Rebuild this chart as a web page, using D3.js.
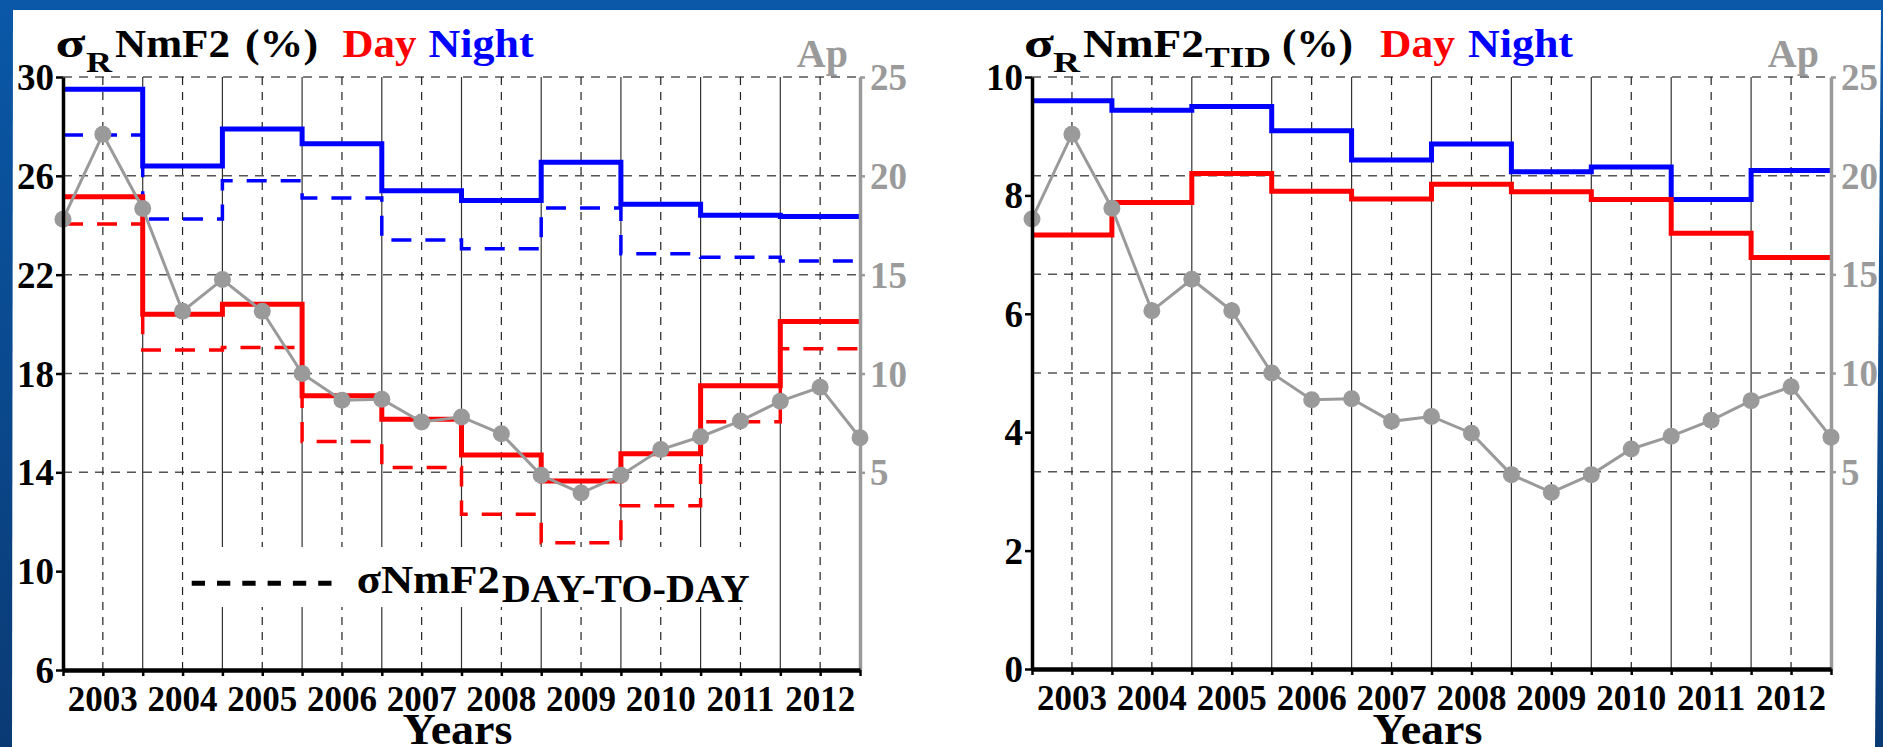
<!DOCTYPE html>
<html>
<head>
<meta charset="utf-8">
<script src="https://cdn.jsdelivr.net/npm/d3@7"></script>
<style>
  html, body { margin: 0; padding: 0; overflow: hidden; background: #0a4f9a; }
  svg { display: block; }
</style>
</head>
<body>
<svg id="chart" width="1883" height="747"></svg>
<script>
// ---- data ----
const years = [2003, 2004, 2005, 2006, 2007, 2008, 2009, 2010, 2011, 2012];
const yearLabels = ["2003", "2004", "2005", "2006", "2007", "2008", "2009", "2010", "2011", "2012"];
const yearEnd = 2013;

// sigma_R NmF2 (%) — total relative variability
const nightTotal = [29.5, 26.4, 27.9, 27.3, 25.4, 25.0, 26.55, 24.85, 24.4, 24.35];
const dayTotal   = [25.15, 20.4, 20.8, 17.1, 16.15, 14.7, 13.65, 14.75, 17.5, 20.1];
// sigma NmF2 day-to-day (%)
const nightDayToDay = [27.65, 24.25, 25.8, 25.1, 23.4, 23.05, 24.7, 22.85, 22.7, 22.55];
const dayDayToDay   = [24.05, 18.95, 19.05, 15.25, 14.2, 12.3, 11.15, 12.65, 16.05, 19.0];
// sigma_R NmF2_TID (%)
const nightTid = [9.6, 9.44, 9.5, 9.09, 8.6, 8.87, 8.4, 8.48, 7.93, 8.42];
const dayTid   = [7.33, 7.88, 8.37, 8.07, 7.94, 8.19, 8.06, 7.93, 7.36, 6.95];

// semi-annual Ap index
const apTimes = [2003, 2003.5, 2004, 2004.5, 2005, 2005.5, 2006, 2006.5, 2007, 2007.5,
                 2008, 2008.5, 2009, 2009.5, 2010, 2010.5, 2011, 2011.5, 2012, 2012.5, 2013];
const apValues = [17.8, 22.1, 18.35, 13.15, 14.75, 13.15, 10.0, 8.65, 8.7, 7.55,
                  7.8, 6.95, 4.85, 3.95, 4.85, 6.15, 6.8, 7.6, 8.6, 9.3, 6.75];

const halfYearTicks = apTimes;
const midYears = [2003.5, 2004.5, 2005.5, 2006.5, 2007.5, 2008.5, 2009.5, 2010.5, 2011.5, 2012.5];
const innerYearLines = [2004, 2005, 2006, 2007, 2008, 2009, 2010, 2011, 2012];

const leftTicks = [6, 10, 14, 18, 22, 26, 30];
const rightTicks = [0, 2, 4, 6, 8, 10];
const apTicks = [5, 10, 15, 20, 25];

// ---- drawing ----
const FONT = "'Liberation Serif','Times New Roman',serif";
const RED = "#ff0000", BLUE = "#0000ff", GRAY = "#9a9a9a";
const svg = d3.select("#chart");

// slide background
const defs = svg.append("defs");
const grad = defs.append("linearGradient").attr("id", "bg")
  .attr("x1", 0).attr("y1", 0).attr("x2", 0).attr("y2", 1);
grad.append("stop").attr("offset", 0).attr("stop-color", "#0a58a8");
grad.append("stop").attr("offset", 1).attr("stop-color", "#0a3a74");
svg.append("rect").attr("width", 1883).attr("height", 747).attr("fill", "url(#bg)");
svg.append("polygon").attr("points", "13,10 1881,10 1875,747 12,747").attr("fill", "#fff");

function label(g, str, x, y, size, color, len, anchor) {
  const t = g.append("text")
    .attr("x", x).attr("y", y)
    .attr("font-family", FONT).attr("font-weight", "bold")
    .attr("font-size", size).attr("fill", color)
    .attr("text-anchor", anchor || "start")
    .text(str);
  if (len) t.attr("textLength", len).attr("lengthAdjust", "spacingAndGlyphs");
  return t;
}

function panel(cfg) {
  const g = svg.append("g");
  const x = d3.scaleLinear().domain([years[0], yearEnd]).range([cfg.x0, cfg.x1]);
  const y = d3.scaleLinear().domain(cfg.yDomain).range([cfg.yBottom, cfg.yTop]);
  const ap = d3.scaleLinear().domain([-5, 25]).range([cfg.yBottom, cfg.yTop]);

  // grid
  g.append("g").selectAll("line").data(apTicks).join("line")
    .attr("x1", cfg.x0).attr("x2", cfg.x1)
    .attr("y1", d => ap(d)).attr("y2", d => ap(d))
    .attr("stroke", "#555").attr("stroke-width", 1.5).attr("stroke-dasharray", "9,7");
  g.append("g").selectAll("line").data(innerYearLines).join("line")
    .attr("x1", d => x(d)).attr("x2", d => x(d))
    .attr("y1", cfg.yTop).attr("y2", cfg.yBottom)
    .attr("stroke", "#333").attr("stroke-width", 1.2);
  g.append("g").selectAll("line").data(midYears).join("line")
    .attr("x1", d => x(d)).attr("x2", d => x(d))
    .attr("y1", cfg.yTop).attr("y2", cfg.yBottom)
    .attr("stroke", "#222").attr("stroke-width", 1.2).attr("stroke-dasharray", "8,7");

  if (cfg.legend) cfg.legend(g);

  // step series
  const step = d3.line().x(d => x(d[0])).y(d => y(d[1])).curve(d3.curveStepAfter);
  cfg.series.forEach(s => {
    const pts = years.map((yr, i) => [yr, s.values[i]]);
    pts.push([yearEnd, s.values[s.values.length - 1]]);
    g.append("path").datum(pts)
      .attr("d", step)
      .attr("fill", "none")
      .attr("stroke", s.color)
      .attr("stroke-width", s.dashed ? 3.5 : 5)
      .attr("stroke-dasharray", s.dashed ? "20,14" : null);
  });

  // Ap curve
  const apPts = apTimes.map((t, i) => [t, apValues[i]]);
  g.append("path").datum(apPts)
    .attr("d", d3.line().x(d => x(d[0])).y(d => ap(d[1])))
    .attr("fill", "none").attr("stroke", GRAY).attr("stroke-width", 3);
  g.append("g").selectAll("circle").data(apPts).join("circle")
    .attr("cx", d => x(d[0])).attr("cy", d => ap(d[1])).attr("r", 8.5)
    .attr("fill", GRAY);

  // left axis
  const la = g.append("g").attr("transform", `translate(${cfg.x0},0)`)
    .call(d3.axisLeft(y).tickValues(cfg.ticks).tickSize(7).tickSizeOuter(0).tickFormat(d3.format("d")));
  la.select(".domain").attr("stroke", "#000").attr("stroke-width", 3.5);
  la.selectAll(".tick line").attr("stroke", "#000").attr("stroke-width", 2.5);
  la.selectAll(".tick text").attr("font-family", FONT).attr("font-weight", "bold")
    .attr("font-size", 37).attr("fill", "#000").attr("x", -9).attr("dy", "0.34em");

  // right Ap axis
  const ra = g.append("g").attr("transform", `translate(${cfg.x1},0)`)
    .call(d3.axisRight(ap).tickValues(apTicks).tickSize(5).tickSizeOuter(0));
  ra.select(".domain").attr("stroke", GRAY).attr("stroke-width", 3.5);
  ra.selectAll(".tick line").attr("stroke", GRAY).attr("stroke-width", 2.5);
  ra.selectAll(".tick text").attr("font-family", FONT).attr("font-weight", "bold")
    .attr("font-size", 37).attr("fill", GRAY).attr("x", 10).attr("dy", "0.34em");
  label(g, "Ap", cfg.x1 - 12, 66.7, 40, GRAY, null, "end");

  // bottom axis
  const ba = g.append("g").attr("transform", `translate(0,${cfg.yBottom})`)
    .call(d3.axisBottom(x).tickValues(halfYearTicks).tickSize(6).tickSizeOuter(0).tickFormat(""));
  ba.select(".domain").attr("stroke", "#000").attr("stroke-width", 4.5);
  ba.selectAll(".tick line").attr("stroke", "#000").attr("stroke-width", 2.5);
  g.append("g").selectAll("text").data(midYears).join("text")
    .attr("x", d => x(d)).attr("y", cfg.yBottom + 41)
    .attr("text-anchor", "middle")
    .attr("font-family", FONT).attr("font-weight", "bold").attr("font-size", 35)
    .attr("fill", "#000")
    .text((d, i) => yearLabels[i]);
  label(g, "Years", (cfg.x0 + cfg.x1) / 2 - 4, 744, 44, "#000", 110, "middle");

  cfg.title(g);
}

// left panel: sigma_R NmF2
panel({
  x0: 63, x1: 860, yTop: 77, yBottom: 670,
  yDomain: [6, 30], ticks: leftTicks,
  series: [
    { values: nightDayToDay, color: BLUE, dashed: true },
    { values: dayDayToDay, color: RED, dashed: true },
    { values: nightTotal, color: BLUE, dashed: false },
    { values: dayTotal, color: RED, dashed: false }
  ],
  legend: g => {
    g.append("rect").attr("x", 187).attr("y", 547).attr("width", 572).attr("height", 60).attr("fill", "#fff");
    g.append("line").attr("x1", 191.7).attr("x2", 331.7).attr("y1", 583.3).attr("y2", 583.3)
      .attr("stroke", "#000").attr("stroke-width", 5).attr("stroke-dasharray", "13.3,12");
    label(g, "σNmF2", 356.7, 593.3, 41, "#000", 143);
    label(g, "DAY-TO-DAY", 501.7, 601.7, 40, "#000", 248);
  },
  title: g => {
    label(g, "σ", 55.5, 57.3, 39, "#000", 30);
    label(g, "R", 86, 71.7, 30, "#000", 26);
    label(g, "NmF2", 115, 57.3, 39, "#000", 115);
    label(g, "(%)", 245, 57.3, 39, "#000", 73);
    label(g, "Day", 342.5, 57.3, 39, RED, 74);
    label(g, "Night", 428.6, 57.3, 39, BLUE, 105);
  }
});

// right panel: sigma_R NmF2_TID
panel({
  x0: 1032, x1: 1831, yTop: 77, yBottom: 669,
  yDomain: [0, 10], ticks: rightTicks,
  series: [
    { values: nightTid, color: BLUE, dashed: false },
    { values: dayTid, color: RED, dashed: false }
  ],
  title: g => {
    label(g, "σ", 1024, 57.3, 39, "#000", 30);
    label(g, "R", 1053, 71.7, 30, "#000", 27);
    label(g, "NmF2", 1083, 57.3, 39, "#000", 121);
    label(g, "TID", 1205, 66.7, 30, "#000", 66);
    label(g, "(%)", 1282, 57.3, 39, "#000", 71);
    label(g, "Day", 1380, 57.3, 39, RED, 75);
    label(g, "Night", 1468, 57.3, 39, BLUE, 105);
  }
});
</script>
</body>
</html>
